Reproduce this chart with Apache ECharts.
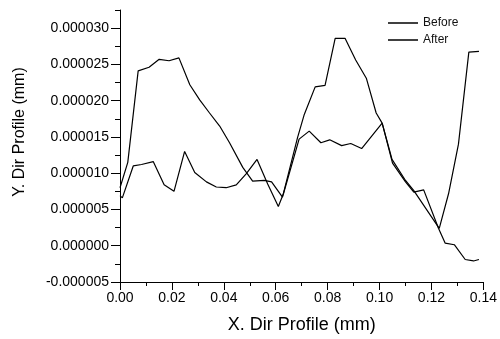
<!DOCTYPE html>
<html><head><meta charset="utf-8">
<script src="https://cdn.jsdelivr.net/npm/echarts@6/dist/echarts.min.js"></script>
<style>html,body{margin:0;padding:0;background:#fff}#c{width:500px;height:339px}</style>
</head><body><div id="c"></div>
<script>
// X positions (mm) and Y values (in units of 1e-6 mm)
const beforeX = [0.000, 0.003, 0.007, 0.0112, 0.0151, 0.0189, 0.0227, 0.0269, 0.0307, 0.0345, 0.0384, 0.0422, 0.0473, 0.0511, 0.0556, 0.0584, 0.0626, 0.0684, 0.071, 0.0752, 0.079, 0.0829, 0.0867, 0.0908, 0.0949, 0.0987, 0.101, 0.1048, 0.110, 0.1132, 0.123, 0.1266, 0.1304, 0.1344, 0.1383];
const beforeY = [8.0, 11.5, 24.1, 24.6, 25.7, 25.5, 25.9, 22.2, 20.1, 18.3, 16.5, 14.2, 10.8, 8.9, 9.0, 8.8, 6.7, 14.9, 18.1, 21.9, 22.1, 28.6, 28.6, 25.6, 23.1, 18.3, 16.9, 11.9, 9.0, 7.6, 2.4, 7.2, 14.0, 26.7, 26.8];
const afterX = [0.000, 0.0009, 0.0051, 0.0083, 0.0128, 0.017, 0.0208, 0.0249, 0.0288, 0.0333, 0.0371, 0.0409, 0.0448, 0.0486, 0.0528, 0.0569, 0.061, 0.063, 0.069, 0.0729, 0.0774, 0.0808, 0.0854, 0.0889, 0.0931, 0.101, 0.105, 0.110, 0.1132, 0.117, 0.1227, 0.1253, 0.1288, 0.133, 0.1362, 0.1383];
const afterY = [6.9, 6.6, 11.0, 11.2, 11.6, 8.4, 7.5, 13.0, 10.1, 8.8, 8.1, 8.0, 8.4, 9.9, 11.9, 8.5, 5.4, 7.2, 14.7, 15.8, 14.2, 14.6, 13.8, 14.1, 13.4, 16.9, 11.4, 8.8, 7.4, 7.7, 2.4, 0.35, 0.14, -1.9, -2.1, -1.9];
const yMajorTicks = [-5, 0, 5, 10, 15, 20, 25, 30].map(v => v * 1e-6);
const seriesNames = ['Before', 'After'];

const F = '"Liberation Sans", Arial, sans-serif';
const chart = echarts.init(document.getElementById('c'), null, {renderer: 'canvas'});
const lineStyle = {color: '#000', width: 1.2};
const option = {
  animation: false,
  backgroundColor: '#fff',
  grid: {left: 120, right: 15, top: 10, bottom: 53},
  legend: {
    orient: 'vertical', left: 388, top: 16, padding: 0,
    itemWidth: 30, itemHeight: 1.5, icon: 'rect', itemGap: 3,
    data: seriesNames,
    textStyle: {fontSize: 12, fontFamily: F, color: '#111', lineHeight: 14}
  },
  xAxis: {
    type: 'value', min: 0, max: 0.14, interval: 0.02,
    axisLine: {onZero: false, lineStyle: {color: '#000', width: 1}},
    axisTick: {show: true, length: 8, lineStyle: {color: '#000'}},
    minorTick: {show: true, splitNumber: 2, length: 4, lineStyle: {color: '#000'}},
    splitLine: {show: false},
    axisLabel: {formatter: v => v.toFixed(2), color: '#000', fontSize: 14, fontFamily: F, margin: 9},
    name: 'X. Dir Profile (mm)', nameLocation: 'middle', nameGap: 34,
    nameTextStyle: {fontSize: 18, fontFamily: F, color: '#000'}
  },
  yAxis: [{
    type: 'value', min: -5e-6, max: 3.25e-5, interval: 5e-6,
    axisLine: {show: true, onZero: false, lineStyle: {color: '#000', width: 1}},
    axisTick: {show: true, length: 9, customValues: yMajorTicks, lineStyle: {color: '#000'}},
    splitLine: {show: false},
    axisLabel: {customValues: yMajorTicks, formatter: v => Number(v).toFixed(6), color: '#000', fontSize: 14, fontFamily: F, margin: 11},
    name: 'Y. Dir Profile (mm)', nameLocation: 'middle', nameGap: 92,
    nameTextStyle: {fontSize: 16, fontFamily: F, color: '#000', padding: [0, 0, 0, 28]}
  }, {
    type: 'value', min: -5e-6, max: 3.25e-5, interval: 2.5e-6, position: 'left',
    axisLine: {show: false, onZero: false},
    axisTick: {show: true, length: 5, lineStyle: {color: '#000'}},
    axisLabel: {show: false},
    splitLine: {show: false}
  }],
  series: [{
    name: seriesNames[0], type: 'line', yAxisIndex: 0,
    data: beforeX.map((x, i) => [x, beforeY[i] * 1e-6]),
    symbol: 'none', showSymbol: false, lineStyle: lineStyle, itemStyle: {color: '#000'}
  }, {
    name: seriesNames[1], type: 'line', yAxisIndex: 0,
    data: afterX.map((x, i) => [x, afterY[i] * 1e-6]),
    symbol: 'none', showSymbol: false, lineStyle: lineStyle, itemStyle: {color: '#000'}
  }]
};
chart.setOption(option);
</script>
</body></html>
